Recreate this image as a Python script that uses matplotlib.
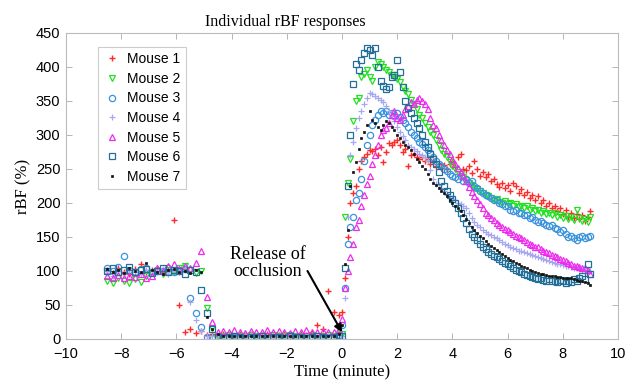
import matplotlib
matplotlib.use("Agg")
import matplotlib.pyplot as plt
import numpy as np

# sample times (minutes): before release every 0.2 min, after release every 0.1 min
t_pre = np.round(np.arange(-8.5, -0.05, 0.2), 2)
t_post = np.round(np.arange(0.0, 9.05, 0.1), 2)

# rBF (%)
m1_pre = [101, 97, 104, 99, 96, 103, 110, 98, 102, 105, 99, 101,
          175, 50, 11, 14, 9, 12,
          6, 7, 5, 8, 6, 5, 7, 6, 8, 5, 6, 7, 5, 6, 8, 6, 5, 7, 6, 9, 20,
          14, 70, 40, 35]
m1_post = [40, 90, 150, 200, 215, 225, 250, 262, 268, 272,
           278, 276, 280, 270, 282, 260, 275, 288, 285, 290,
           293, 285, 275, 280, 255, 270, 272, 268, 265, 268,
           262, 265, 258, 262, 255, 258, 252, 256, 250, 258,
           262, 255, 268, 272, 250, 248, 255, 244, 262, 250,
           240, 245, 238, 242, 232, 236, 228, 224, 230, 222,
           226, 218, 230, 225, 215, 220, 212, 216, 208, 212,
           204, 210, 200, 205, 196, 200, 192, 196, 188, 192,
           184, 190, 180, 186, 178, 184, 176, 182, 174, 180,
           188]

m2_pre = [86, 83, 90, 85, 82, 88, 84, 93, 97, 100, 96, 102, 99, 104, 108, 101, 97, 100,
          45, 16,
          5, 4, 6, 5, 4, 5, 6, 4, 5, 5, 6, 4, 5, 6, 5, 4, 5, 6, 5, 4, 6, 5,
          14]
m2_post = [8, 180, 230, 265, 320, 350, 355, 385, 390, 395,
           385, 380, 400, 408, 405, 400, 395, 392, 388, 385,
           382, 378, 370, 365, 360, 352, 345, 338, 330, 325,
           318, 312, 305, 300, 292, 285, 278, 272, 268, 260,
           255, 250, 246, 242, 238, 234, 230, 226, 222, 220,
           217, 214, 212, 210, 208, 205, 206, 202, 200, 203,
           198, 200, 196, 198, 194, 196, 192, 195, 190, 192,
           188, 190, 186, 188, 184, 186, 182, 185, 180, 183,
           178, 181, 176, 180, 175, 190, 178, 174, 176, 172,
           180]

m3_pre = [104, 100, 106, 122, 101, 98, 103, 105, 99, 102, 100, 104, 98, 101, 103,
          60, 38, 18,
          3, 2, 3, 2, 2, 3, 2, 1, 2, 3, 2, 2, 3, 2, 1, 2, 3, 2, 2, 3, 2, 2, 3, 2,
          6]
m3_post = [20, 75, 140, 165, 180, 205, 215, 235, 262, 285,
           300, 315, 322, 330, 335, 332, 336, 330, 333, 328,
           332, 326, 322, 318, 312, 305, 300, 295, 290, 287,
           282, 278, 274, 268, 262, 258, 254, 250, 247, 243,
           240, 238, 235, 240, 233, 236, 230, 232, 225, 222,
           218, 215, 212, 210, 207, 204, 205, 200, 198, 196,
           195, 190, 188, 190, 185, 186, 182, 183, 178, 180,
           175, 172, 174, 170, 168, 166, 168, 163, 162, 158,
           160, 155, 150, 152, 148, 145, 150, 152, 148, 150,
           152]

m4_pre = [97, 93, 100, 96, 102, 98, 95, 101, 97, 99, 103, 96, 100, 98, 102,
          55, 28, 12,
          5, 4, 6, 4, 5, 3, 5, 4, 6, 5, 4, 5, 3, 5, 4, 6, 4, 5, 4, 5, 3, 5, 4, 5,
          8]
m4_post = [5, 60, 180, 270, 290, 310, 325, 335, 345, 355,
           362, 360, 358, 355, 352, 348, 342, 335, 328, 320,
           312, 305, 298, 292, 286, 283, 280, 276, 272, 270,
           268, 262, 248, 235, 228, 226, 222, 218, 212, 210,
           206, 204, 200, 198, 196, 192, 185, 178, 172, 168,
           164, 160, 158, 155, 153, 150, 148, 145, 143, 140,
           138, 136, 134, 132, 130, 129, 128, 127, 125, 123,
           122, 120, 119, 117, 116, 114, 113, 112, 111, 110,
           109, 108, 107, 106, 105, 104, 103, 102, 101, 100,
           100]

m5_pre = [92, 90, 94, 89, 93, 91, 95, 90, 92,
          104, 100, 107, 110, 103, 108, 105, 112,
          130, 62, 25,
          11, 12, 10, 13, 11, 9, 12, 10, 11, 13, 10, 12, 11, 9, 12, 10, 13, 11, 10, 12, 11, 10,
          15]
m5_post = [30, 75, 100, 120, 140, 165, 175, 195, 212, 228,
           240, 258, 270, 285, 300, 308, 310, 318, 330, 335,
           325, 322, 330, 338, 342, 348, 345, 352, 355, 350,
           345, 338, 325, 315, 310, 300, 293, 285, 278, 272,
           265, 258, 252, 246, 240, 232, 224, 216, 210, 204,
           198, 192, 186, 182, 178, 175, 171, 168, 165, 162,
           160, 157, 155, 152, 150, 148, 145, 143, 140, 138,
           136, 135, 133, 130, 128, 126, 124, 122, 120, 118,
           116, 114, 112, 110, 108, 107, 106, 105, 104, 102,
           95]

m6_pre = [100, 104, 98, 102, 106, 99, 101, 103, 97, 100, 105, 98, 102, 100, 96, 101, 99,
          72, 38, 14,
          3, 2, 3, 4, 3, 2, 3, 3, 4, 2, 3, 3, 2, 4, 3, 3, 2, 3, 4, 3, 2, 3,
          5]
m6_post = [5, 105, 225, 300, 375, 405, 395, 410, 420, 428,
           425, 418, 428, 400, 380, 372, 368, 370, 385, 388,
           410, 392, 370, 350, 340, 332, 325, 318, 310, 300,
           290, 282, 272, 265, 258, 245, 232, 225, 218, 212,
           206, 200, 193, 185, 178, 170, 162, 155, 150, 145,
           140, 136, 132, 128, 125, 122, 120, 118, 115, 112,
           110, 107, 104, 102, 100, 98, 96, 94, 92, 91,
           90, 88, 89, 87, 86, 88, 85, 86, 84, 87,
           85, 83, 86, 84, 88, 86, 90, 92, 88, 110,
           95]

m7_pre = [103, 99, 101, 97, 104, 100, 98, 112, 102, 99, 96, 101, 103, 98, 100, 97, 102, 99,
          32, 14, 8,
          5, 4, 5, 4, 5, 5, 4, 5, 4, 5, 5, 4, 5, 4, 5, 5, 4, 5, 4, 5, 5,
          7]
m7_post = [20, 110, 160, 225, 245, 260, 280, 295, 305, 315,
           335, 322, 318, 312, 308, 315, 320, 318, 312, 308,
           300, 295, 290, 285, 282, 278, 272, 265, 260, 255,
           250, 242, 236, 230, 226, 222, 218, 214, 210, 205,
           200, 196, 192, 188, 182, 176, 170, 165, 160, 156,
           152, 148, 144, 140, 137, 134, 131, 128, 125, 122,
           119, 116, 114, 112, 110, 108, 106, 104, 102, 100,
           98, 97, 96, 95, 94, 93, 92, 92, 91, 91,
           90, 90, 89, 89, 88, 87, 86, 85, 84, 83,
           80]

labels = ['Mouse 1', 'Mouse 2', 'Mouse 3', 'Mouse 4', 'Mouse 5', 'Mouse 6', 'Mouse 7']
series = [(m1_pre, m1_post), (m2_pre, m2_post), (m3_pre, m3_post), (m4_pre, m4_post),
          (m5_pre, m5_post), (m6_pre, m6_post), (m7_pre, m7_post)]
styles = [dict(marker='+', color='#ff2a2a', ms=5, mew=1.0),
          dict(marker='v', color='#22e022', ms=5, mew=0.9, mfc='none'),
          dict(marker='o', color='#3a93dd', ms=4.5, mew=0.9, mfc='none'),
          dict(marker='+', color='#a8a8f2', ms=4.5, mew=0.9),
          dict(marker='^', color='#ee2aee', ms=5, mew=0.9, mfc='none'),
          dict(marker='s', color='#236f98', ms=4.5, mew=0.9, mfc='none'),
          dict(marker='s', color='#111111', ms=1.8, mew=0.5)]

fig = plt.figure(figsize=(6.25, 3.88), dpi=100)
ax = fig.add_axes([0.1056, 0.1263, 0.8832, 0.7887])

t_all = np.concatenate([t_pre, t_post])
for (pre, post), lab, st in zip(series, labels, styles):
    ax.plot(t_all, pre + post, ls='none', label=lab, **st)

ax.set_xlim(-10, 10)
ax.set_ylim(0, 450)
ax.set_xticks(np.arange(-10, 11, 2))
ax.set_yticks(np.arange(0, 451, 50))
ax.tick_params(direction='in', top=True, right=True, length=4, width=0.6,
               color='#aaaaaa', labelsize=10.5)
ax.tick_params(axis='x', pad=6)
ax.tick_params(axis='y', pad=4)
for lbl in ax.get_xticklabels() + ax.get_yticklabels():
    lbl.set_family('Liberation Sans')
for s in ax.spines.values():
    s.set_color('#bbbbbb')
    s.set_linewidth(0.8)

serif = 'Liberation Serif'
ax.set_title('Individual rBF responses', family=serif, fontsize=11.5, x=0.397, pad=5)
ax.set_xlabel('Time (minute)', family=serif, fontsize=12, labelpad=2)
ax.set_ylabel('rBF (%)', family=serif, fontsize=12, labelpad=3)

ax.text(-2.7, 112, 'Release of\nocclusion', ha='center', va='center',
        family=serif, fontsize=13, linespacing=1.05)
ax.annotate('', xy=(0.0, 10), xytext=(-1.25, 100),
            arrowprops=dict(arrowstyle='-|>', color='black', lw=1.5,
                            shrinkA=0, shrinkB=0, mutation_scale=11))

leg = ax.legend(loc='upper left', bbox_to_anchor=(0.058, 0.955), borderaxespad=0,
                fancybox=False, edgecolor='#cccccc', framealpha=1,
                prop={'family': 'Liberation Sans', 'size': 10},
                labelspacing=0.4, handletextpad=0.5, handlelength=1.2,
                borderpad=0.4, numpoints=1)
leg.get_frame().set_linewidth(0.8)

fig.savefig('out.png', dpi=100)
